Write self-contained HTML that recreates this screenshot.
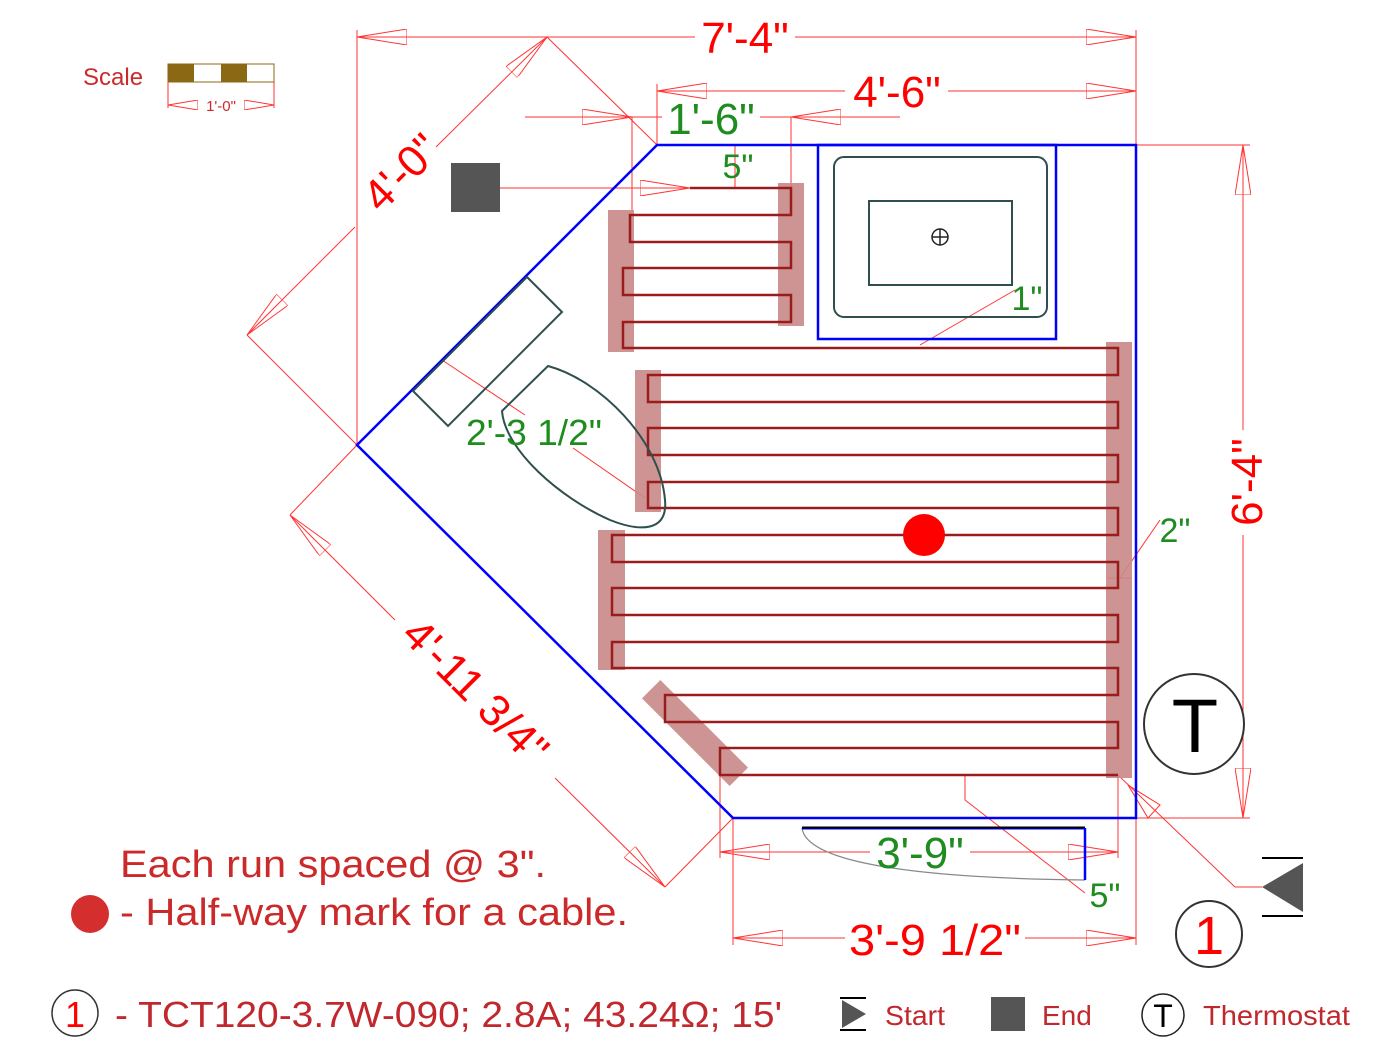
<!DOCTYPE html>
<html><head><meta charset="utf-8"><style>
html,body{margin:0;padding:0;background:#fff;width:1400px;height:1049px;overflow:hidden}
svg{display:block}
text{font-family:"Liberation Sans",Arial,sans-serif}
</style></head><body>
<svg width="1400" height="1049" viewBox="0 0 1400 1049" xmlns="http://www.w3.org/2000/svg">
<defs>
<marker id="ar" viewBox="0 0 30 10" refX="30" refY="5" markerWidth="30" markerHeight="10" markerUnits="userSpaceOnUse" orient="auto">
<path d="M0,0 L30,5 L0,10 Z" fill="#fff" stroke="#f33" stroke-width="1"/>
</marker>
<marker id="al" viewBox="0 0 30 10" refX="0" refY="5" markerWidth="30" markerHeight="10" markerUnits="userSpaceOnUse" orient="auto">
<path d="M30,0 L0,5 L30,10 Z" fill="#fff" stroke="#f33" stroke-width="1"/>
</marker>
<marker id="as" viewBox="0 0 50 16" refX="50" refY="8" markerWidth="50" markerHeight="16" markerUnits="userSpaceOnUse" orient="auto">
<path d="M0,0 L50,8 L0,16 Z" fill="none" stroke="#f33" stroke-width="1"/>
</marker>
<marker id="asl" viewBox="0 0 50 16" refX="0" refY="8" markerWidth="50" markerHeight="16" markerUnits="userSpaceOnUse" orient="auto">
<path d="M50,0 L0,8 L50,16 Z" fill="none" stroke="#f33" stroke-width="1"/>
</marker>
</defs>

<!-- Scale -->
<text x="83" y="85" font-size="24" fill="#cc2a2a">Scale</text>
<rect x="168" y="64" width="106" height="18" fill="#fff" stroke="#8b6914" stroke-width="1"/>
<rect x="168" y="64" width="26" height="18" fill="#8b6914"/>
<rect x="221" y="64" width="26" height="18" fill="#8b6914"/>
<g stroke="#f33" stroke-width="1" fill="none">
<line x1="168" y1="82" x2="168" y2="108"/><line x1="274" y1="82" x2="274" y2="108"/>
<line x1="168" y1="105" x2="198" y2="105" marker-start="url(#al)"/>
<line x1="245" y1="105" x2="274" y2="105" marker-end="url(#ar)"/>
</g>
<text x="221" y="111" font-size="15" fill="#cc2a2a" text-anchor="middle">1'-0"</text>

<!-- dimension lines -->
<g stroke="#f33" stroke-width="1" fill="none">
<line x1="357" y1="37" x2="695" y2="37" marker-start="url(#asl)"/>
<line x1="795" y1="37" x2="1136" y2="37" marker-end="url(#as)"/>
<line x1="357" y1="30" x2="357" y2="445"/>
<line x1="1136" y1="30" x2="1136" y2="145"/>
<line x1="657" y1="91" x2="845" y2="91" marker-start="url(#asl)"/>
<line x1="948" y1="91" x2="1136" y2="91" marker-end="url(#as)"/>
<line x1="657" y1="84" x2="657" y2="145"/>
<line x1="525" y1="117" x2="632" y2="117" marker-end="url(#as)"/>
<line x1="632" y1="117" x2="662" y2="117"/>
<line x1="760" y1="117" x2="791" y2="117"/>
<line x1="900" y1="117" x2="791" y2="117" marker-end="url(#as)"/>
<line x1="632" y1="117" x2="632" y2="210"/>
<line x1="791" y1="117" x2="791" y2="188"/>
<line x1="547" y1="37" x2="657" y2="145"/>
<line x1="735" y1="145" x2="735" y2="188"/>
<line x1="500" y1="188" x2="690" y2="188" marker-end="url(#as)"/>
<line x1="247" y1="335" x2="357" y2="445"/>
<line x1="436" y1="147" x2="547" y2="37" marker-end="url(#as)"/>
<line x1="247" y1="335" x2="355" y2="227" marker-start="url(#asl)"/>
<line x1="290" y1="515" x2="357" y2="445"/>
<line x1="665" y1="887" x2="733" y2="818"/>
<line x1="290" y1="515" x2="395" y2="620" marker-start="url(#asl)"/>
<line x1="555" y1="778" x2="665" y2="887" marker-end="url(#as)"/>
<line x1="1136" y1="145" x2="1250" y2="145"/>
<line x1="1136" y1="818" x2="1250" y2="818"/>
<line x1="1243" y1="145" x2="1243" y2="430" marker-start="url(#asl)"/>
<line x1="1243" y1="535" x2="1243" y2="818" marker-end="url(#as)"/>
<line x1="733" y1="818" x2="733" y2="945"/>
<line x1="1136" y1="818" x2="1136" y2="945"/>
<line x1="733" y1="938" x2="845" y2="938" marker-start="url(#asl)"/>
<line x1="1025" y1="938" x2="1136" y2="938" marker-end="url(#as)"/>
<line x1="720" y1="775" x2="720" y2="858"/>
<line x1="1118" y1="775" x2="1118" y2="858"/>
<line x1="720" y1="852" x2="870" y2="852" marker-start="url(#asl)"/>
<line x1="970" y1="852" x2="1118" y2="852" marker-end="url(#as)"/>
<line x1="965" y1="775" x2="965" y2="800"/>
<line x1="965" y1="800" x2="1085" y2="893"/>
<line x1="1120" y1="578" x2="1160" y2="520"/>
<line x1="1107" y1="578" x2="1132" y2="578"/>
<line x1="920" y1="345" x2="1015" y2="290"/>
<line x1="442" y1="360" x2="525" y2="415"/>
<line x1="573" y1="448" x2="645" y2="498"/>
<line x1="1118" y1="775" x2="1235" y2="887"/>
<line x1="1235" y1="887" x2="1262" y2="887"/>
<path d="M1128,785 L1160,805 L1148,818 Z"/>
</g>

<!-- pink strips -->
<g fill="#c98888" fill-opacity="0.9">
<rect x="608" y="210" width="26" height="142"/>
<rect x="778" y="183" width="26" height="143"/>
<rect x="635" y="370" width="26" height="142"/>
<rect x="1106" y="342" width="26" height="436"/>
<rect x="598" y="530" width="27" height="140"/>
<rect x="-13" y="-62" width="26" height="124" transform="translate(695,733) rotate(-45)"/>
</g>

<!-- cable -->
<path fill="none" stroke="#9a1c1c" stroke-width="2.5" d="
M690,188 H791 V215 H630 V242 H791 V268 H623 V295 H791 V322 H623 V348 H1118 V375 H648 V402 H1118 V428 H648 V455 H1118 V482 H648 V508 H1118 V535 H612 V562 H1118 V588 H612 V615 H1118 V642 H612 V668 H1118 V695 H665 V722 H1118 V748 H720 V775 H1118"/>
<circle cx="924" cy="535" r="21" fill="#f00"/>

<!-- room walls -->
<path d="M657,145 L1136,145 L1136,818 L733,818 L357,445 Z" fill="none" stroke="#00f" stroke-width="2.5"/>
<rect x="818" y="145" width="238" height="194" fill="none" stroke="#00f" stroke-width="2.5"/>
<rect x="834" y="157" width="213" height="160" rx="10" fill="none" stroke="#2f4f4f" stroke-width="2"/>
<rect x="869" y="201" width="143" height="84" fill="none" stroke="#2f4f4f" stroke-width="2"/>
<circle cx="940" cy="237" r="8" fill="none" stroke="#222" stroke-width="1.5"/>
<line x1="932" y1="237" x2="948" y2="237" stroke="#222" stroke-width="1.5"/>
<line x1="940" y1="229" x2="940" y2="245" stroke="#222" stroke-width="1.5"/>
<path d="M527,277 L562,312 L448,426 L413,391 Z" fill="none" stroke="#2f4f4f" stroke-width="2"/>
<path d="M502,411 L548,366 C600,380 660,440 665,500 C668,532 640,532 610,520 C560,498 505,450 502,411 Z" fill="none" stroke="#2f4f4f" stroke-width="2"/>
<path d="M802,828 C806,860 900,878 1085,880" fill="none" stroke="#888" stroke-width="1.2"/>
<line x1="802" y1="828" x2="1085" y2="828" stroke="#000" stroke-width="3"/>
<line x1="802" y1="829" x2="1085" y2="829" stroke="#00f" stroke-width="1"/>
<line x1="1085" y1="828" x2="1085" y2="880" stroke="#00f" stroke-width="2.5"/>

<rect x="451" y="163" width="49" height="49" fill="#555"/>

<g fill="#f00" font-size="44">
<text x="745" y="53" text-anchor="middle">7'-4"</text>
<text x="897" y="107" text-anchor="middle">4'-6"</text>
<text x="935" y="955" text-anchor="middle" textLength="172" lengthAdjust="spacingAndGlyphs">3'-9 1/2"</text>
<text transform="translate(412,183) rotate(-45)" text-anchor="middle">4'-0"</text>
<text transform="translate(465,702) rotate(45)" text-anchor="middle" textLength="185" lengthAdjust="spacingAndGlyphs">4'-11 3/4"</text>
<text transform="translate(1262,482) rotate(-90)" text-anchor="middle">6'-4"</text>
</g>
<g fill="#1e8c1e">
<text x="711" y="134" font-size="44" text-anchor="middle">1'-6"</text>
<text x="738" y="178" font-size="34" text-anchor="middle">5"</text>
<text x="920" y="868" font-size="44" text-anchor="middle">3'-9"</text>
<text x="1105" y="907" font-size="34" text-anchor="middle">5"</text>
<text x="1175" y="542" font-size="34" text-anchor="middle">2"</text>
<text x="1027" y="310" font-size="34" text-anchor="middle">1"</text>
<text x="534" y="445" font-size="36" text-anchor="middle" textLength="136" lengthAdjust="spacingAndGlyphs">2'-3 1/2"</text>
</g>

<circle cx="1194" cy="724" r="50" fill="#fff" stroke="#333" stroke-width="2"/>
<text x="1195" y="752" font-size="76" text-anchor="middle" fill="#000">T</text>
<circle cx="1209" cy="934" r="33" fill="none" stroke="#333" stroke-width="2"/>
<text x="1209" y="954" font-size="54" text-anchor="middle" fill="#f00">1</text>
<line x1="1262" y1="858" x2="1303" y2="858" stroke="#000" stroke-width="2"/>
<line x1="1262" y1="916" x2="1303" y2="916" stroke="#000" stroke-width="2"/>
<path d="M1262,887 L1303,863 L1303,912 Z" fill="#555"/>

<text x="120" y="877" font-size="38" fill="#cc2a2a" textLength="426" lengthAdjust="spacingAndGlyphs">Each run spaced @ 3".</text>
<circle cx="90" cy="914" r="19" fill="#d42e2e"/>
<text x="120" y="925" font-size="38" fill="#cc2a2a" textLength="508" lengthAdjust="spacingAndGlyphs">- Half-way mark for a cable.</text>

<circle cx="75" cy="1013" r="23" fill="none" stroke="#333" stroke-width="1.5"/>
<text x="75" y="1027" font-size="36" text-anchor="middle" fill="#f00">1</text>
<text x="115" y="1027" font-size="36" fill="#c0282e" textLength="667" lengthAdjust="spacingAndGlyphs">- TCT120-3.7W-090; 2.8A; 43.24Ω; 15'</text>
<line x1="840" y1="998" x2="866" y2="998" stroke="#000" stroke-width="2"/>
<line x1="840" y1="1030" x2="866" y2="1030" stroke="#000" stroke-width="2"/>
<path d="M842,1000 L866,1014 L842,1028 Z" fill="#555"/>
<text x="885" y="1025" font-size="28" fill="#c0282e" textLength="60" lengthAdjust="spacingAndGlyphs">Start</text>
<rect x="991" y="997" width="34" height="34" fill="#555"/>
<text x="1042" y="1025" font-size="28" fill="#c0282e">End</text>
<circle cx="1163" cy="1015" r="21" fill="none" stroke="#222" stroke-width="1.5"/>
<text x="1163" y="1027" font-size="32" text-anchor="middle" fill="#000">T</text>
<text x="1203" y="1025" font-size="28" fill="#c0282e" textLength="147" lengthAdjust="spacingAndGlyphs">Thermostat</text>
</svg>
</body></html>
